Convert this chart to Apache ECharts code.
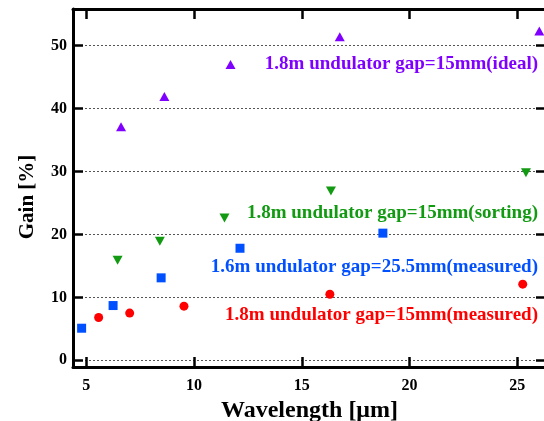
<!DOCTYPE html>
<html>
<head>
<meta charset="utf-8">
<script src="https://cdn.jsdelivr.net/npm/echarts@6/dist/echarts.min.js"></script>
<style>html,body{margin:0;padding:0;background:#fff;}#c{width:544px;height:421px;}</style>
</head>
<body>
<div id="c"></div>
<script>
// Data (wavelength in µm, gain in %)
const idealX = [6.61, 8.62, 11.69, 16.76, 26.02];
const idealY = [37.1, 41.9, 47.0, 51.4, 52.3];
const sortingX = [6.45, 8.41, 11.41, 16.35, 25.4];
const sortingY = [15.9, 18.9, 22.6, 26.9, 29.8];
const meas16X = [4.78, 6.24, 8.47, 12.13, 18.76];
const meas16Y = [5.1, 8.7, 13.1, 17.8, 20.2];
const meas18X = [5.57, 7.01, 9.53, 16.3, 25.25];
const meas18Y = [6.8, 7.5, 8.6, 10.5, 12.1];
const seriesNames = [
  '1.8m undulator gap=15mm(ideal)',
  '1.8m undulator gap=15mm(sorting)',
  '1.6m undulator gap=25.5mm(measured)',
  '1.8m undulator gap=15mm(measured)'
];
const xTitle = 'Wavelength [\u03bcm]';
const yTitle = 'Gain [%]';

const pair = (xs, ys) => xs.map((x, i) => [x, ys[i]]);
const FONT = '"Liberation Serif", "Times New Roman", serif';
const colors = ['#8000ff', '#129a12', '#0050ff', '#ff0000'];

const chart = echarts.init(document.getElementById('c'), null, {renderer: 'canvas'});
const axisCommon = {
  axisLine: {show: true, onZero: false, lineStyle: {color: '#000', width: 3}},
  axisTick: {show: true, inside: true, length: 10, lineStyle: {color: '#000', width: 2.5}},
};
chart.setOption({
  animation: false,
  backgroundColor: '#fff',
  grid: {left: 73, top: 9, right: -2, bottom: 54, containLabel: false, outerBoundsMode: 'none'},
  xAxis: [
    Object.assign({
      type: 'value', min: 4.38, max: 26.33, splitNumber: 5, position: 'bottom',
      name: xTitle, nameLocation: 'middle', nameGap: 29,
      nameTextStyle: {fontFamily: FONT, fontWeight: 'bold', fontSize: 24, color: '#000'},
      axisLabel: {showMinLabel: false, showMaxLabel: false, margin: 11, fontFamily: FONT, fontWeight: 'bold', fontSize: 16, color: '#000',
        formatter: v => (Math.abs(v % 5) < 1e-9 ? String(v) : '')},
      splitLine: {show: false}
    }, axisCommon),
    Object.assign({
      type: 'value', min: 4.38, max: 26.33, splitNumber: 5, position: 'top',
      axisLabel: {show: false}, splitLine: {show: false}
    }, axisCommon)
  ],
  yAxis: [
    Object.assign({
      type: 'value', min: -1.06, max: 55.8, splitNumber: 5, position: 'left',
      name: yTitle, nameLocation: 'middle', nameGap: 35, nameRotate: 90,
      nameTextStyle: {fontFamily: FONT, fontWeight: 'bold', fontSize: 21, color: '#000', padding: [0, 18, 0, 0]},
      axisLabel: {showMinLabel: false, showMaxLabel: false, margin: 6, fontFamily: FONT, fontWeight: 'bold', fontSize: 16, color: '#000',
        formatter: v => (Math.abs(v % 10) < 1e-9 ? String(v) : '')},
      splitLine: {show: true, lineStyle: {color: '#555', width: 1, type: [2, 2]}}
    }, axisCommon),
    Object.assign({
      type: 'value', min: -1.06, max: 55.8, splitNumber: 5, position: 'right',
      axisLabel: {show: false}, splitLine: {show: false}
    }, axisCommon)
  ],
  series: [
    {name: seriesNames[0], type: 'scatter', data: pair(idealX, idealY), symbol: 'triangle', symbolSize: [10, 9], itemStyle: {color: colors[0], opacity: 1}},
    {name: seriesNames[1], type: 'scatter', data: pair(sortingX, sortingY), symbol: 'triangle', symbolRotate: 180, symbolSize: [10, 9], itemStyle: {color: colors[1], opacity: 1}},
    {name: seriesNames[2], type: 'scatter', data: pair(meas16X, meas16Y), symbol: 'rect', symbolSize: 9, itemStyle: {color: colors[2], opacity: 1}},
    {name: seriesNames[3], type: 'scatter', data: pair(meas18X, meas18Y), symbol: 'circle', symbolSize: 9, itemStyle: {color: colors[3], opacity: 1}}
  ],
  graphic: [
    {type: 'text', right: 6, top: 55, style: {text: seriesNames[0], fill: colors[0], font: 'bold 19px ' + FONT}},
    {type: 'text', right: 6, top: 204, style: {text: seriesNames[1], fill: colors[1], font: 'bold 19px ' + FONT}},
    {type: 'text', right: 6, top: 258, style: {text: seriesNames[2], fill: colors[2], font: 'bold 19px ' + FONT}},
    {type: 'text', right: 6, top: 306, style: {text: seriesNames[3], fill: colors[3], font: 'bold 19px ' + FONT}}
  ]
});
</script>
</body>
</html>
